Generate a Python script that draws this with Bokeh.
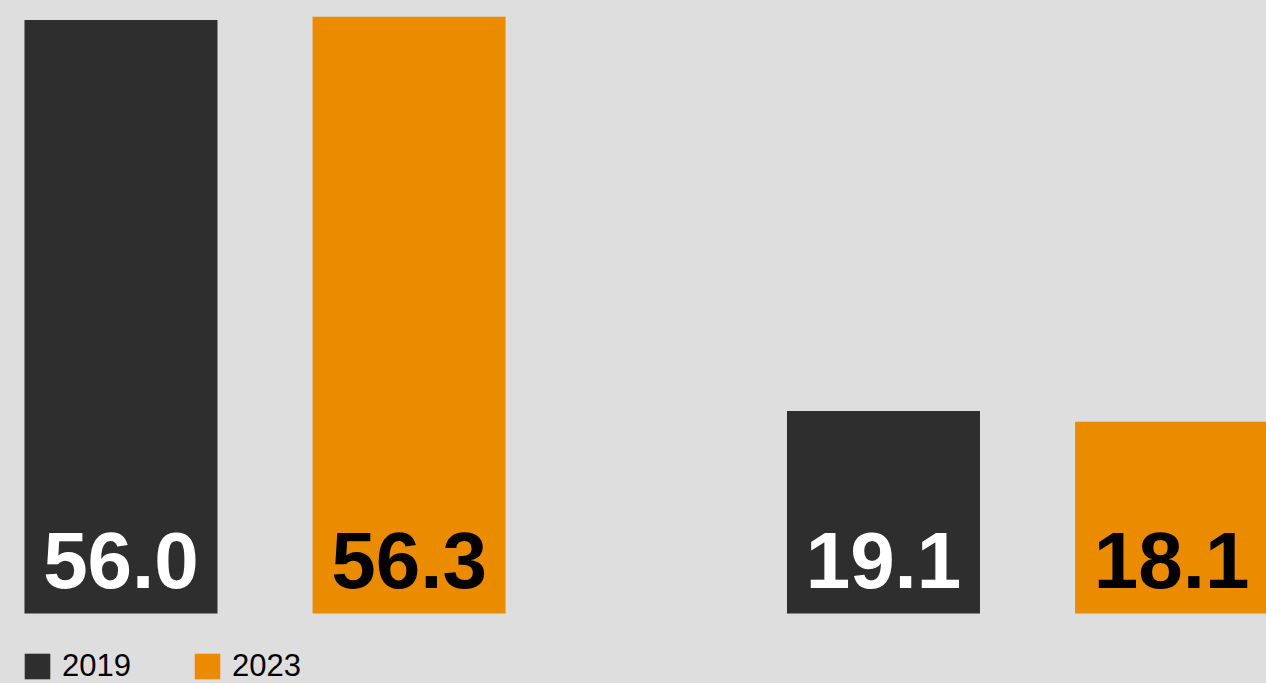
from bokeh.plotting import figure
from bokeh.models import ColumnDataSource, Range1d, Legend, LegendItem
from bokeh.transform import dodge
from bokeh.core.properties import value
from bokeh.embed import file_html
from bokeh.resources import INLINE

# ---- data ----
groups = ["Group 1", "Group 2"]
years = ["2019", "2023"]
values_2019 = [56.0, 19.1]
values_2023 = [56.3, 18.1]
labels_2019 = ["56.0", "19.1"]
labels_2023 = ["56.3", "18.1"]

BG = "#dedede"
DARK = "#2e2e2e"
ORANGE = "#eb8c00"

W, H = 1266, 683
gx = list(range(len(groups)))

src19 = ColumnDataSource(dict(x=gx, v=values_2019, lab=labels_2019))
src23 = ColumnDataSource(dict(x=gx, v=values_2023, lab=labels_2023))

p = figure(width=W, height=H, output_backend="svg", toolbar_location=None,
           x_axis_location=None, y_axis_location=None,
           x_range=Range1d(-0.3469, 1.3134), y_range=Range1d(-6.6, 57.83),
           min_border=0, background_fill_color=BG, border_fill_color=BG,
           outline_line_color=None)
p.grid.visible = False

d = 0.1889
bw = 0.2531
r19 = p.vbar(x=dodge("x", -d), top="v", bottom=0, width=bw, source=src19,
             fill_color=DARK, line_color=None)
r23 = p.vbar(x=dodge("x", d), top="v", bottom=0, width=bw, source=src23,
             fill_color=ORANGE, line_color=None)

p.text(x=dodge("x", -d), y=0, text="lab", source=src19, text_align="center",
       text_baseline="alphabetic", y_offset=-53, text_color="white",
       text_font=value("Liberation Sans"), text_font_style="bold",
       text_font_size="80px")
p.text(x=dodge("x", d), y=0, text="lab", source=src23, text_align="center",
       text_baseline="alphabetic", y_offset=-53, text_color="black",
       text_font=value("Liberation Sans"), text_font_style="bold",
       text_font_size="80px")

legend = Legend(items=[LegendItem(label=years[0], renderers=[r19]),
                       LegendItem(label=years[1], renderers=[r23])],
                orientation="horizontal", location=(21, -1),
                glyph_width=32, glyph_height=32, label_standoff=9,
                spacing=60, padding=0, margin=0,
                label_text_font="Liberation Sans", label_text_font_size="31px",
                label_text_color="black", label_height=32,
                background_fill_alpha=0, border_line_color=None)
p.add_layout(legend)

html = file_html(p, INLINE)
html = html.replace("<head>", "<head><style>html,body{margin:0;padding:0;background:%s;overflow:hidden}</style>" % BG, 1)
open("out.html", "w").write(html)
